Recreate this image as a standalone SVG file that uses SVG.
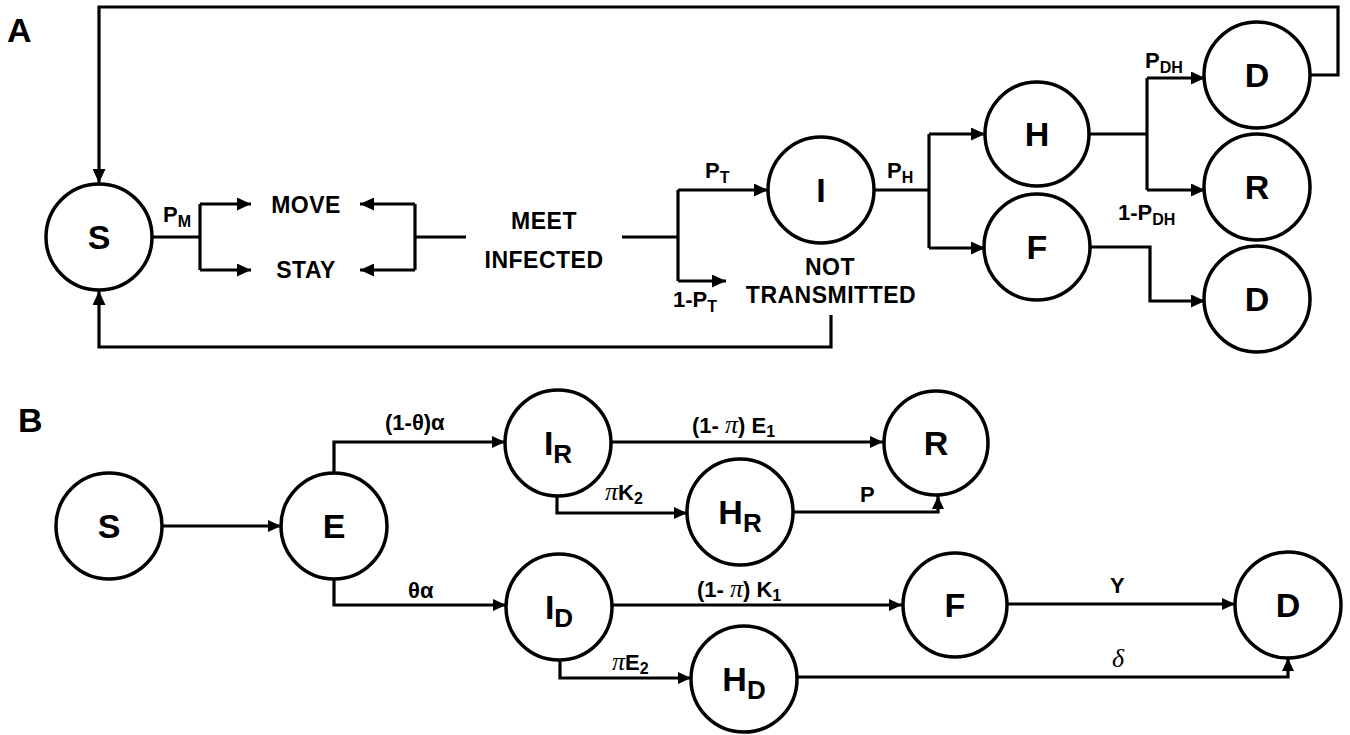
<svg xmlns="http://www.w3.org/2000/svg" width="1350" height="735" viewBox="0 0 1350 735">
<style>
.node circle{fill:#fff;stroke:#000;stroke-width:3.5}
#connectors path{fill:none;stroke:#000;stroke-width:3.2}
text{font-family:"Liberation Sans",Arial,sans-serif;font-weight:bold;fill:#000}
.nl{font-size:34px;text-anchor:middle}
.wl{font-size:23px;text-anchor:middle;letter-spacing:0.5px}
.el{font-size:22px}
.bl{font-size:22px}
.sub{font-size:16px}
.gr{font-family:"Liberation Serif","Times New Roman",serif;font-style:italic;font-weight:normal;font-size:26px}
.panel{font-size:34px}
</style>
<defs>
<marker id="ah" markerUnits="userSpaceOnUse" markerWidth="14" markerHeight="13" refX="14" refY="6.5" orient="auto">
<path d="M0,0 L14,6.5 L0,13 z" fill="#000"/>
</marker>
<marker id="ahs" markerUnits="userSpaceOnUse" markerWidth="13" markerHeight="12" refX="13" refY="6" orient="auto">
<path d="M0,0 L13,6 L0,12 z" fill="#000"/>
</marker>
</defs>
<rect width="1350" height="735" fill="#fff"/>

<text class="panel" x="7" y="42">A</text>
<text class="panel" x="18" y="432">B</text>

<g id="connectors">
<!-- Panel A -->
<path d="M1309,75 H1338 V7 H99 V183" marker-end="url(#ah)"/>
<path d="M831,315 V347 H99 V291" marker-end="url(#ah)"/>
<path d="M152,237 H200"/>
<path d="M200,204 V270"/>
<path d="M200,204 H251" marker-end="url(#ah)"/>
<path d="M200,270 H251" marker-end="url(#ah)"/>
<path d="M466,237 H415"/>
<path d="M415,204 V270"/>
<path d="M415,204 H360" marker-end="url(#ah)"/>
<path d="M415,270 H360" marker-end="url(#ah)"/>
<path d="M622,237 H678"/>
<path d="M678,190 V281"/>
<path d="M678,190 H768" marker-end="url(#ah)"/>
<path d="M678,281 H726" marker-end="url(#ah)"/>
<path d="M874,190 H929"/>
<path d="M929,134 V248"/>
<path d="M929,134 H985" marker-end="url(#ah)"/>
<path d="M929,248 H985" marker-end="url(#ah)"/>
<path d="M1089,134 H1147"/>
<path d="M1147,78 V190"/>
<path d="M1147,78 H1205" marker-end="url(#ah)"/>
<path d="M1147,190 H1205" marker-end="url(#ah)"/>
<path d="M1090,247 H1150 V301 H1205" marker-end="url(#ah)"/>
<!-- Panel B -->
<path d="M162,526 H281" marker-end="url(#ahs)"/>
<path d="M334,473 V442 H505" marker-end="url(#ahs)"/>
<path d="M334,579 V605 H506" marker-end="url(#ahs)"/>
<path d="M611,442 H883" marker-end="url(#ahs)"/>
<path d="M557,496 V513 H687" marker-end="url(#ahs)"/>
<path d="M793,512 H938 V496" marker-end="url(#ahs)"/>
<path d="M612,605 H902" marker-end="url(#ahs)"/>
<path d="M560,660 V678 H691" marker-end="url(#ahs)"/>
<path d="M797,677 H1288 V658" marker-end="url(#ahs)"/>
<path d="M1008,604 H1235" marker-end="url(#ahs)"/>

<!-- edge labels A -->
<text class="el" x="163" y="222">P<tspan class="sub" dy="5">M</tspan></text>
<text class="el" x="705" y="178">P<tspan class="sub" dy="5">T</tspan></text>
<text class="el" x="673" y="307">1-P<tspan class="sub" dy="5">T</tspan></text>
<text class="el" x="887" y="178">P<tspan class="sub" dy="5">H</tspan></text>
<text class="el" x="1145" y="68">P<tspan class="sub" dy="5">DH</tspan></text>
<text class="el" x="1118" y="220">1-P<tspan class="sub" dy="5">DH</tspan></text>
<!-- edge labels B -->
<text class="bl" x="385" y="430">(1-θ)α</text>
<text class="bl" x="408" y="598">θα</text>
<text class="bl" x="692" y="433">(1- <tspan class="gr">π</tspan>) E<tspan class="sub" dy="4">1</tspan></text>
<text class="bl" x="605" y="500"><tspan class="gr">π</tspan>K<tspan class="sub" dy="4">2</tspan></text>
<text class="bl" x="860" y="502">P</text>
<text class="bl" x="697" y="597">(1- <tspan class="gr">π</tspan>) K<tspan class="sub" dy="4">1</tspan></text>
<text class="bl" x="612" y="670"><tspan class="gr">π</tspan>E<tspan class="sub" dy="4">2</tspan></text>
<text class="bl" x="1110" y="593">Y</text>
<text class="bl gr" x="1112" y="667" font-size="24">δ</text>
</g>

<!-- Panel A nodes -->
<g id="nodeA_S" class="node"><circle cx="99" cy="237" r="53"/><text class="nl" x="99" y="249">S</text></g>
<g id="nodeA_MOVE"><text class="wl" x="306" y="213">MOVE</text></g>
<g id="nodeA_STAY"><text class="wl" x="306" y="278">STAY</text></g>
<g id="nodeA_MEET"><text class="wl" x="544" y="229">MEET</text><text class="wl" x="544" y="268">INFECTED</text></g>
<g id="nodeA_I" class="node"><circle cx="821" cy="190" r="53"/><text class="nl" x="821" y="202">I</text></g>
<g id="nodeA_NT"><text class="wl" x="830" y="275">NOT</text><text class="wl" x="831" y="303">TRANSMITTED</text></g>
<g id="nodeA_H" class="node"><circle cx="1037" cy="134" r="52"/><text class="nl" x="1037" y="146">H</text></g>
<g id="nodeA_F" class="node"><circle cx="1037" cy="247" r="53"/><text class="nl" x="1037" y="259">F</text></g>
<g id="nodeA_D1" class="node"><circle cx="1257" cy="75" r="53"/><text class="nl" x="1257" y="87">D</text></g>
<g id="nodeA_R" class="node"><circle cx="1257" cy="187" r="53"/><text class="nl" x="1257" y="199">R</text></g>
<g id="nodeA_D2" class="node"><circle cx="1257" cy="299" r="53"/><text class="nl" x="1257" y="311">D</text></g>

<!-- Panel B nodes -->
<g id="nodeB_S" class="node"><circle cx="109" cy="526" r="53"/><text class="nl" x="109" y="538">S</text></g>
<g id="nodeB_E" class="node"><circle cx="334" cy="526" r="53"/><text class="nl" x="334" y="538">E</text></g>
<g id="nodeB_IR" class="node"><circle cx="558" cy="443" r="53"/><text class="nl" x="558" y="455">I<tspan font-size="26" dy="8">R</tspan></text></g>
<g id="nodeB_HR" class="node"><circle cx="740" cy="512" r="53"/><text class="nl" x="740" y="524">H<tspan font-size="26" dy="8">R</tspan></text></g>
<g id="nodeB_R" class="node"><circle cx="936" cy="443" r="52"/><text class="nl" x="936" y="455">R</text></g>
<g id="nodeB_ID" class="node"><circle cx="559" cy="607" r="53"/><text class="nl" x="559" y="619">I<tspan font-size="26" dy="8">D</tspan></text></g>
<g id="nodeB_HD" class="node"><circle cx="744" cy="679" r="53"/><text class="nl" x="744" y="691">H<tspan font-size="26" dy="8">D</tspan></text></g>
<g id="nodeB_F" class="node"><circle cx="955" cy="605" r="52"/><text class="nl" x="955" y="617">F</text></g>
<g id="nodeB_D" class="node"><circle cx="1288" cy="605" r="53"/><text class="nl" x="1288" y="617">D</text></g>
</svg>
